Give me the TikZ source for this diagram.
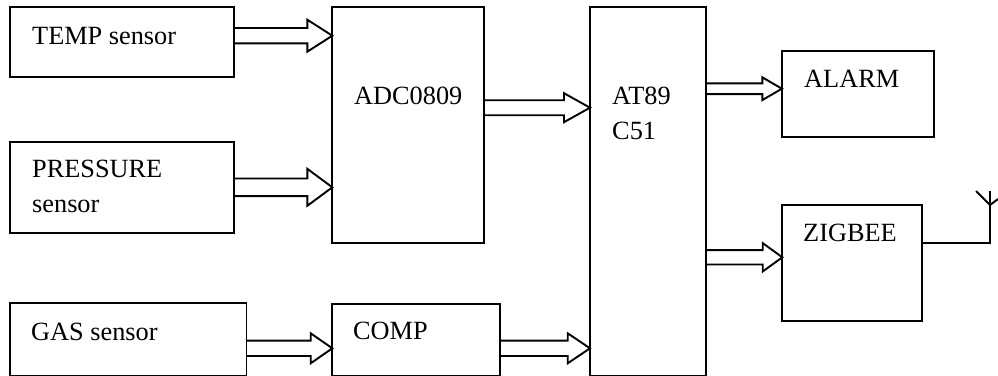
\documentclass[tikz,border=0pt]{standalone}
\usepackage{fontspec}
\setmainfont{Liberation Serif}
\usetikzlibrary{calc}
\tikzset{
  box/.style={draw=black,line width=1.9pt,anchor=north west,inner sep=0pt,outer sep=0pt},
  hollow/.style={draw=black,line width=1.9pt,line join=miter},
  lbl/.style={anchor=base west,inner sep=0pt,font=\fontsize{26.3}{26.3}\selectfont},
  wire/.style={draw=black,line width=1.9pt,line join=miter}
}
\newcommand{\hollowarrow}[6]{% from, to, y, half width, head base back, head half
  \path (#1.east |- 0,#3) coordinate (s) (#2.west |- 0,#3) coordinate (t);
  \draw[hollow] ($(s)+(0,-#4)$) -- ($(t)+(-#5,-#4)$) -- ($(t)+(-#5,-#6)$) -- (t) -- ($(t)+(-#5,#6)$) -- ($(t)+(-#5,#4)$) -- ($(s)+(0,#4)$);
}
\begin{document}
\begin{tikzpicture}[x=1pt,y=-1pt]
\useasboundingbox (0,0) rectangle (998,375);
\node[box,minimum width=224pt,minimum height=70pt] (temp) at (10,7) {};
\node[box,minimum width=224pt,minimum height=91pt] (press) at (10,142) {};
\node[box,minimum width=236.5pt,minimum height=72.6pt] (gas) at (10,303.3) {};
\node[box,minimum width=152pt,minimum height=236pt] (adc) at (332.3,7) {};
\node[box,minimum width=167.7pt,minimum height=71.9pt] (comp) at (332.3,304) {};
\node[box,minimum width=116pt,minimum height=369pt] (at) at (590,7) {};
\node[box,minimum width=152.5pt,minimum height=86.4pt] (alarm) at (781.9,51) {};
\node[box,minimum width=140pt,minimum height=115.7pt] (zig) at (782.3,205.3) {};
\node[lbl] (t1) at (32,44) {TEMP sensor};
\node[lbl] (t2) at (32,177) {PRESSURE};
\node[lbl] (t3) at (32,212) {sensor};
\node[lbl] (t4) at (31,340) {GAS sensor};
\node[lbl] (t5) at (354,104) {ADC0809};
\node[lbl] (t6) at (353,339) {COMP};
\node[lbl] (t7) at (612,104) {AT89};
\node[lbl] (t8) at (612,139) {C51};
\node[lbl] (t9) at (804,87) {ALARM};
\node[lbl] (t10) at (803,241) {ZIGBEE};
\hollowarrow{temp}{adc}{35.7}{7.7}{25}{16}
\hollowarrow{press}{adc}{187.3}{8.8}{25}{18.5}
\hollowarrow{adc}{at}{107.7}{7.5}{26}{14.5}
\hollowarrow{gas}{comp}{348.3}{7.7}{21.6}{15}
\hollowarrow{comp}{at}{348.3}{7.7}{22.3}{15}
\hollowarrow{at}{alarm}{88.7}{5.4}{19.6}{11.4}
\hollowarrow{at}{zig}{257.3}{7.2}{19.6}{14.2}
\coordinate (ant) at (990,205);
\draw[wire] (zig.east |- 0,243.3) -| (ant);
\draw[wire] (ant) -- (990,190.7);
\draw[wire] (ant) -- (976,191);
\draw[wire] (ant) -- (998,199);
\end{tikzpicture}
\end{document}
